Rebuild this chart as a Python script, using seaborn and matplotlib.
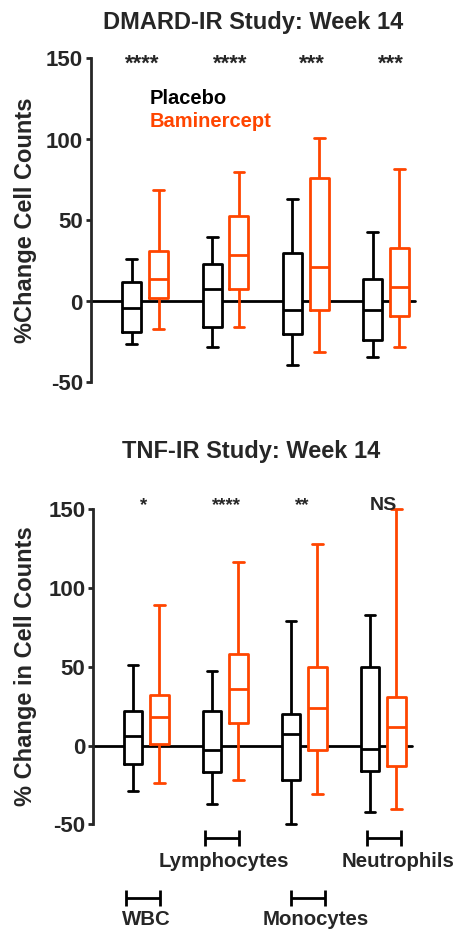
import matplotlib
matplotlib.use("Agg")
import matplotlib.pyplot as plt
import numpy as np
import pandas as pd
import seaborn as sns

# ---------------- data ----------------
cells = ["WBC", "Lymphocytes", "Monocytes", "Neutrophils"]
groups = ["Placebo", "Baminercept"]
colors = ["#000000", "#FF4500"]

# five-number summaries per cell type: [min, Q1, median, Q3, max]
dmard_placebo = [[-26, -19, -4, 12, 26], [-28, -16, 8, 23, 40],
                 [-39, -20, -5, 30, 63], [-34, -24, -5, 14, 43]]
dmard_bamin = [[-17, 2, 14, 31, 69], [-16, 8, 29, 53, 80],
               [-31, -5, 21, 76, 101], [-28, -9, 9, 33, 82]]
tnf_placebo = [[-29, -12, 6, 22, 51], [-37, -17, -3, 22, 47],
               [-50, -22, 7, 20, 79], [-42, -16, -2, 50, 83]]
tnf_bamin = [[-24, 1, 18, 32, 89], [-22, 14, 36, 58, 116],
             [-31, -3, 24, 50, 128], [-40, -13, 12, 31, 150]]

dmard_sig = ["****", "****", "***", "***"]
tnf_sig = ["*", "****", "**", "NS"]

titles = ["DMARD-IR Study: Week 14", "TNF-IR Study: Week 14"]
ylabels = ["%Change Cell Counts", "% Change in Cell Counts"]
yticks = [-50, 0, 50, 100, 150]


def long_frame(placebo, bamin):
    rows = []
    for cell, p, b in zip(cells, placebo, bamin):
        for v in p:
            rows.append((cell, groups[0], v))
        for v in b:
            rows.append((cell, groups[1], v))
    return pd.DataFrame(rows, columns=["cell", "group", "value"])


df_top = long_frame(dmard_placebo, dmard_bamin)
df_bot = long_frame(tnf_placebo, tnf_bamin)

# ---------------- style ----------------
sns.set_style("ticks")
plt.rcParams["font.family"] = ["Liberation Sans", "DejaVu Sans"]
plt.rcParams["font.weight"] = "bold"
plt.rcParams["axes.unicode_minus"] = False

W, H = 457, 930
fig = plt.figure(figsize=(W / 100, H / 100), dpi=100)

ax1 = fig.add_axes([90.7 / W, (H - 382.5) / H, 324.3 / W, 324.0 / H])
ax2 = fig.add_axes([93.3 / W, (H - 824.4) / H, 318.4 / W, 315.6 / H])


def draw_panel(ax, df, xlim):
    ax.axhline(0, color="black", lw=2, zorder=1)
    common = dict(data=df, x="cell", y="value", hue="group", order=cells,
                  hue_order=groups, whis=(0, 100), width=0.667, gap=0.29,
                  legend=False, ax=ax)
    # white backing so the zero line does not show inside the boxes
    sns.boxplot(**common, palette=["white", "white"], fill=True,
                linewidth=0, linecolor="white", zorder=1.5)
    sns.boxplot(**common, palette=colors, fill=False, linewidth=2,
                capwidths=0.135, zorder=2)
    for art in ax.lines + ax.patches:
        art.set_clip_on(False)
    ax.set_xlim(*xlim)
    ax.set_ylim(-50, 150)
    ax.set_yticks(yticks)
    ax.set_xticks([])
    ax.set_xlabel("")
    for s in ["top", "right", "bottom"]:
        ax.spines[s].set_visible(False)
    ax.spines["left"].set_linewidth(2)
    ax.spines["left"].set_bounds(-50, 150)
    ax.tick_params(axis="y", direction="out", length=3.6, width=2,
                   pad=2, labelsize=16)
    for lab in ax.get_yticklabels():
        lab.set_fontweight("bold")


draw_panel(ax1, df_top, (-0.68, 3.36))
draw_panel(ax2, df_bot, (-0.67, 3.36))

# y labels
ax1.set_ylabel(ylabels[0], fontsize=17, fontweight="bold")
ax1.yaxis.set_label_coords(-0.166, 0.5)
ax2.set_ylabel(ylabels[1], fontsize=17, fontweight="bold")
ax2.yaxis.set_label_coords(-0.177, 0.5)

# titles
fig.text(253 / W, (H - 29.5) / H, titles[0], ha="center", va="baseline",
         fontsize=17, fontweight="bold")
fig.text(251 / W, (H - 458.3) / H, titles[1], ha="center", va="baseline",
         fontsize=17, fontweight="bold")

# significance marks
top_dx = [-0.04, 0.06, 0.08, 0.06]
for i, s in enumerate(dmard_sig):
    ax1.text(i + top_dx[i], 143, s, ha="center", va="baseline",
             fontsize=16, fontweight="bold", clip_on=False)
bot_dx = [-0.03, 0.02, -0.02, 0.0]
for i, s in enumerate(tnf_sig):
    ax2.text(i + bot_dx[i], 149, s, ha="center", va="baseline",
             fontsize=14 if s == "NS" else 13.5, fontweight="bold",
             clip_on=False)

# text legend
ax1.text(0.06, 122, groups[0], color=colors[0], ha="left", va="baseline",
         fontsize=14.5, fontweight="bold")
ax1.text(0.06, 107.5, groups[1], color=colors[1], ha="left", va="baseline",
         fontsize=14.5, fontweight="bold")

# category brackets under the lower panel
br_dx = [-0.04, -0.04, 0.05, 0.01]
lab_dx = [0.0, -0.02, 0.15, 0.19]
br_y = [-96.8, -58.8, -96.8, -58.8]
lab_y = [-113.7, -76.8, -113.7, -76.8]
half = 0.217
tick = 5.1
for i, name in enumerate(cells):
    c = i + br_dx[i]
    ax2.hlines(br_y[i], c - half, c + half, color="black", lw=2, clip_on=False)
    ax2.vlines([c - half, c + half], br_y[i] - tick, br_y[i] + tick,
               color="black", lw=2, clip_on=False)
    ax2.text(i + lab_dx[i], lab_y[i], name, ha="center", va="baseline",
             fontsize=14.7, fontweight="bold", clip_on=False)

fig.savefig("out.png", dpi=100)
